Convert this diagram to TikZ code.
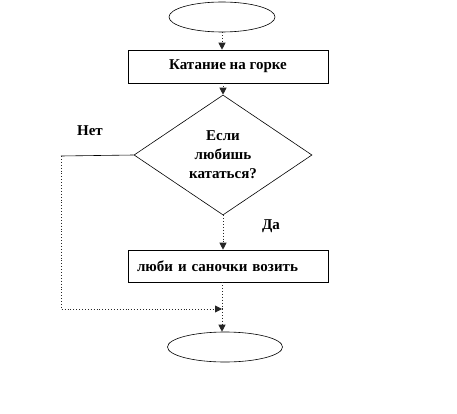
\documentclass[tikz,border=0pt]{standalone}
\usepackage{fontspec}
\setmainfont{Liberation Serif}
\usetikzlibrary{shapes.geometric,arrows.meta}
\begin{document}
\begin{tikzpicture}[x=1pt,y=1pt,
  every node/.style={font=\bfseries\fontsize{15}{19}\selectfont},
  term/.style={draw, line width=0.6pt, ellipse, minimum width=106pt, minimum height=30pt, inner sep=0pt},
  proc/.style={draw, line width=0.6pt, rectangle, minimum width=200pt, minimum height=33pt, inner sep=0pt},
  dec/.style={draw, line width=0.6pt, diamond, minimum width=178pt, minimum height=120pt, aspect=1.48, inner sep=0pt, align=center},
  flow/.style={draw, dotted, line width=0.9pt, black!85},
  tip/.style={-{Triangle[width=7pt,length=7pt]}}
]
\useasboundingbox (0,0) rectangle (457,-414);
\node[term] (start) at (222,-17) {};
\node[proc] (b1) at (228,-66.5) {Катание на горке};
\node[dec] (d) at (223,-155) {Если\\любишь\\кататься?};
\node[proc, minimum height=32pt, text width=182pt, align=left] (b2) at (228,-266) {люби и саночки возить};
\node[term, minimum width=115pt] (end) at (225,-347) {};
\coordinate (c1) at (61,-156);
\coordinate (c2) at (61,-309);
\coordinate (m) at (222,-309);
\node (no) at (90,-131) {Нет};
\node (yes) at (271,-226) {Да};
\draw[flow,tip] (start.south) -- (start.south |- b1.north);
\draw[flow,tip] (d.north |- b1.south) -- (d.north);
\draw[flow,tip] (d.south) -- (d.south |- b2.north);
\draw[flow] (m |- b2.south) -- (m);
\draw[flow,tip] (m) -- (m |- end.north);
\draw[line width=0.6pt] (d.west) -- (c1);
\draw[flow,tip] (c1) -- (c2) -- (m);
\end{tikzpicture}
\end{document}
